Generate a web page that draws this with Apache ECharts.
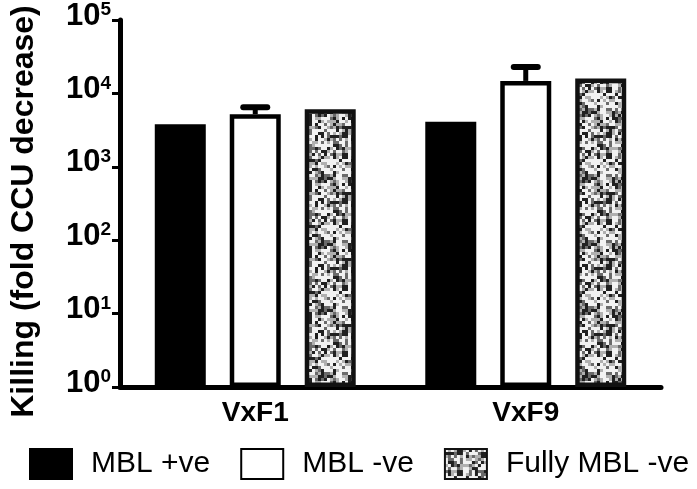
<!DOCTYPE html>
<html>
<head>
<meta charset="utf-8">
<script src="https://cdn.jsdelivr.net/npm/echarts@6/dist/echarts.min.js"></script>
<style>html,body{margin:0;padding:0;background:#fff}#c{width:697px;height:489px}</style>
</head>
<body>
<div id="c"></div>
<script>
// ---- data ----
const categories = ['VxF1', 'VxF9'];
const seriesNames = ['MBL +ve', 'MBL -ve', 'Fully MBL -ve'];
const mblPos = [3800, 4100];
const mblNeg = [5200, 14800];
const mblNegErrTop = [6500, 22900];
const fullyMblNeg = [6100, 16000];
const yTickExponents = ['0', '1', '2', '3', '4', '5'];
const yAxisTitle = 'Killing (fold CCU decrease)';

// ---- speckled texture for the grey bars (deterministic) ----
function makeSpeckle() {
  const size = 66;
  const cv = document.createElement('canvas');
  cv.width = size; cv.height = size;
  const ctx = cv.getContext('2d');
  ctx.fillStyle = '#d0d0d0';
  ctx.fillRect(0, 0, size, size);
  let s = 98765;
  function nxt() { s = (s * 1103515245 + 12345) & 0x7fffffff; return s / 0x7fffffff; }
  for (let y = 0; y < size; y += 3) {
    for (let x = 0; x < size; x += 3) {
      const h = nxt();
      let c;
      if (h < 0.22) c = '#202020';
      else if (h < 0.40) c = '#6a6a6a';
      else if (h < 0.62) c = '#b0b0b0';
      else c = '#f2f2f2';
      ctx.fillStyle = c;
      ctx.fillRect(x, y, 3, 3);
    }
  }
  return cv;
}
const speckle = makeSpeckle();

const FONT = 'Liberation Sans, Arial, Helvetica, sans-serif';
const chart = echarts.init(document.getElementById('c'), null, { renderer: 'canvas' });

const barCommon = {
  type: 'bar',
  barWidth: 51,
  barGap: '47%',
  z: 2
};

chart.setOption({
  animation: false,
  backgroundColor: '#fff',
  textStyle: { fontFamily: FONT, color: '#000' },
  grid: { left: 116, right: 36, top: 20, bottom: 102, containLabel: false },
  legend: {
    data: seriesNames,
    bottom: 4,
    left: 24,
    itemWidth: 42,
    itemHeight: 30,
    itemGap: 30,
    icon: 'rect',
    textStyle: { fontSize: 30, color: '#000', fontFamily: FONT, padding: [0, 0, 0, 14] }
  },
  xAxis: {
    type: 'category',
    data: categories,
    axisLine: { lineStyle: { color: '#000', width: 5 } },
    axisTick: { alignWithLabel: true, length: 10, lineStyle: { color: '#000', width: 3 } },
    axisLabel: { fontSize: 28, fontWeight: 'bold', color: '#000', margin: 12, fontFamily: FONT },
    splitLine: { show: false }
  },
  yAxis: {
    type: 'log',
    logBase: 10,
    min: 1,
    max: 100000,
    name: yAxisTitle,
    nameLocation: 'middle',
    nameGap: 80,
    nameRotate: 90,
    nameTextStyle: { fontSize: 32, fontWeight: 'bold', color: '#000', fontFamily: FONT, padding: [0, 16, 0, 0] },
    axisLine: { show: true, lineStyle: { color: '#000', width: 5 } },
    axisTick: { show: true, length: 8, lineStyle: { color: '#000', width: 3 } },
    minorTick: { show: false },
    splitLine: { show: false },
    axisLabel: {
      margin: 9,
      color: '#000',
      padding: [0, 0, 8, 0],
      formatter: function (v) {
        const e = Math.round(Math.log10(v));
        return '{b|10}{s|' + yTickExponents[e] + '}';
      },
      rich: {
        b: { fontSize: 31, fontWeight: 'bold', color: '#000', fontFamily: FONT, lineHeight: 31 },
        s: { fontSize: 19, fontWeight: 'bold', color: '#000', fontFamily: FONT, lineHeight: 19, verticalAlign: 'top' }
      }
    }
  },
  series: [
    Object.assign({}, barCommon, {
      name: seriesNames[0],
      data: mblPos,
      itemStyle: { color: '#000', borderColor: '#000', borderWidth: 4 }
    }),
    Object.assign({}, barCommon, {
      name: seriesNames[1],
      data: mblNeg,
      itemStyle: { color: '#fff', borderColor: '#000', borderWidth: 4.5 }
    }),
    Object.assign({}, barCommon, {
      name: seriesNames[2],
      data: fullyMblNeg,
      itemStyle: { color: { image: speckle, repeat: 'repeat' }, borderColor: '#111', borderWidth: 4.5 }
    }),
    {
      type: 'custom',
      name: 'err',
      z: 3,
      silent: true,
      data: categories.map((c, i) => [i, mblNeg[i], mblNegErrTop[i]]),
      renderItem: function (params, api) {
        const p0 = api.coord([api.value(0), api.value(1)]);
        const p1 = api.coord([api.value(0), api.value(2)]);
        return {
          type: 'group',
          children: [
            { type: 'line', shape: { x1: p0[0], y1: p0[1], x2: p1[0], y2: p1[1] },
              style: { stroke: '#000', lineWidth: 5 } },
            { type: 'line', shape: { x1: p1[0] - 12, y1: p1[1], x2: p1[0] + 12, y2: p1[1] },
              style: { stroke: '#000', lineWidth: 6, lineCap: 'round' } }
          ]
        };
      }
    }
  ]
});
</script>
</body>
</html>
